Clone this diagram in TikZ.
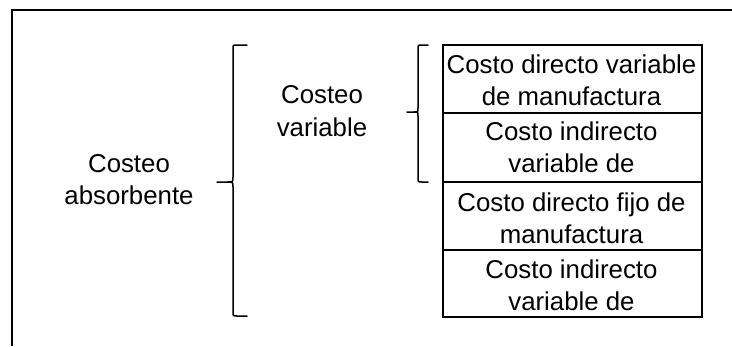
\documentclass[tikz,border=0pt]{standalone}
\usepackage{fontspec}
\setmainfont{Liberation Sans}
\begin{document}
\begin{tikzpicture}[x=1pt,y=-1pt,
  frame/.style={line width=2.2pt},
  cell/.style={draw,line width=1.8pt,minimum width=259pt,inner sep=0pt,anchor=north west},
  txt/.style={anchor=base,inner sep=0pt,font=\fontsize{25.8}{33}\selectfont},
  brace/.style={line width=1.5pt,line cap=round,line join=round}]
\useasboundingbox (0,0) rectangle (732,346);

% open frame: top and left edges only
\coordinate (fTL) at (12,10);
\coordinate (fTR) at (732,10);
\coordinate (fBL) at (12,346);
\draw[frame] (fTR) -- (fTL) -- (fBL);

% table of cost items
\node[cell,minimum height=68pt] (r1) at (442,44) {};
\node[cell,minimum height=69pt] (r2) at (442,112) {};
\node[cell,minimum height=68pt] (r3) at (442,181) {};
\node[cell,minimum height=67pt] (r4) at (442,249) {};

\node[txt] (r1a) at (571.5,73)  {Costo directo variable};
\node[txt] (r1b) at (571.5,105) {de manufactura};
\node[txt] (r2a) at (571.5,140) {Costo indirecto};
\node[txt] (r2b) at (571.5,172) {variable de};
\node[txt] (r3a) at (571.5,211) {Costo directo fijo de};
\node[txt] (r3b) at (571.5,243) {manufactura};
\node[txt] (r4a) at (571.5,278) {Costo indirecto};
\node[txt] (r4b) at (571.5,310) {variable de};

% labels
\node[txt] (abs1) at (129,172) {Costeo};
\node[txt] (abs2) at (129,204) {absorbente};
\node[txt] (var1) at (322,103) {Costeo};
\node[txt] (var2) at (322,136) {variable};

% large brace (costeo absorbente)
\draw[brace] (247,45) -- (237,45) .. controls (233,45) .. (233,49) -- (233,177)
  .. controls (233,182) .. (228,182) -- (217,182);
\draw[brace] (228,182) .. controls (233,182) .. (233,187) -- (233,312)
  .. controls (233,316) .. (237,316) -- (247,316);

% small brace (costeo variable)
\draw[brace] (428,45) -- (422,45) .. controls (418,45) .. (418,49) -- (418,108)
  .. controls (418,112) .. (414,112) -- (407,112);
\draw[brace] (414,112) .. controls (418,112) .. (418,116) -- (418,178)
  .. controls (418,182) .. (422,182) -- (428,182);
\end{tikzpicture}
\end{document}
